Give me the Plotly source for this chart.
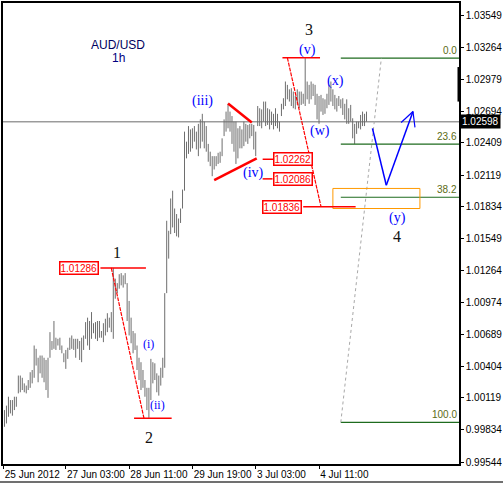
import plotly.graph_objects as go

# ---------------- data ----------------
highs = [1.0001, 1.0005, 1.0013, 1.0010, 1.0010, 1.0013, 1.0013, 1.0032, 1.0032, 1.0030,
         1.0025, 1.0023, 1.0028, 1.0035, 1.0037, 1.0059, 1.0056, 1.0048, 1.0050, 1.0050,
         1.0048, 1.0046, 1.0048, 1.0071, 1.0063, 1.0081, 1.0066, 1.0065, 1.0066, 1.0059,
         1.0052, 1.0055, 1.0057, 1.0066, 1.0068, 1.0065, 1.0065, 1.0065, 1.0063, 1.0066,
         1.0068, 1.0080, 1.0084, 1.0081, 1.0089, 1.0079, 1.0080, 1.0081, 1.0081, 1.0072,
         1.0079, 1.0083, 1.0088, 1.0084, 1.0089, 1.01286, 1.0119, 1.0115, 1.0123, 1.0124,
         1.0122, 1.0124, 1.0115, 1.0099, 1.0084, 1.0072, 1.0070, 1.0059, 1.0048, 1.0044,
         1.0037, 1.0028, 1.0021, 1.0021, 1.0047, 1.0044, 1.0043, 1.0034, 1.0032, 1.0039,
         1.0048, 1.0106, 1.0171, 1.0162, 1.0191, 1.0198, 1.0182, 1.0177, 1.0173, 1.0182,
         1.0199, 1.0251, 1.0242, 1.0256, 1.0253, 1.0254, 1.0256, 1.0251, 1.0258, 1.0262,
         1.0267, 1.0260, 1.0256, 1.0240, 1.0233, 1.0229, 1.0229, 1.0229, 1.0232, 1.0233,
         1.0245, 1.0262, 1.0269, 1.0276, 1.0269, 1.0265, 1.0260, 1.0260, 1.0254, 1.0256,
         1.0253, 1.0260, 1.0258, 1.0257, 1.0258, 1.0258, 1.0257, 1.0251, 1.0274, 1.0272,
         1.0271, 1.0278, 1.0278, 1.0272, 1.0271, 1.0269, 1.0267, 1.0272, 1.0267, 1.0260,
         1.0276, 1.0281, 1.0296, 1.0293, 1.0289, 1.0290, 1.0287, 1.0283, 1.0289, 1.0287,
         1.0287, 1.0285, 1.0317, 1.0296, 1.0293, 1.0296, 1.0294, 1.0293, 1.0285, 1.0283,
         1.0284, 1.0281, 1.0280, 1.0285, 1.0293, 1.0296, 1.0289, 1.0284, 1.0281, 1.0283,
         1.0280, 1.0281, 1.0276, 1.0280, 1.0272, 1.0275, 1.0263, 1.0258, 1.0260, 1.0260,
         1.0266, 1.0269, 1.0267, 1.0269]
lows = [0.9986, 0.9989, 0.9995, 0.9998, 0.9996, 1.0001, 1.0004, 1.0016, 1.0017, 1.0019,
        1.0017, 1.0016, 1.0019, 1.0021, 1.0025, 1.0030, 1.0041, 1.0026, 1.0034, 1.0030,
        1.0026, 1.0019, 1.0012, 1.0048, 1.0055, 1.0056, 1.0055, 1.0059, 1.0055, 1.0052,
        1.0044, 1.0038, 1.0047, 1.0055, 1.0056, 1.0055, 1.0048, 1.0056, 1.0046, 1.0044,
        1.0055, 1.0065, 1.0059, 1.0055, 1.0065, 1.0070, 1.0065, 1.0063, 1.0066, 1.0066,
        1.0062, 1.0068, 1.0071, 1.0075, 1.0071, 1.0065, 1.0101, 1.0106, 1.0110, 1.0113,
        1.0111, 1.0114, 1.0081, 1.0068, 1.0061, 1.0052, 1.0055, 1.0037, 1.0028, 1.0019,
        1.0021, 1.0013, 1.0001, 0.9994, 1.0010, 1.0025, 1.0028, 1.0017, 1.0014, 1.0023,
        1.0030, 1.0039, 1.0106, 1.0137, 1.0159, 1.0165, 1.0160, 1.0157, 1.0156, 1.0169,
        1.0182, 1.0198, 1.0227, 1.0231, 1.0233, 1.0236, 1.0242, 1.0235, 1.0229, 1.0236,
        1.0242, 1.0236, 1.0233, 1.0224, 1.0220, 1.0211, 1.0217, 1.0220, 1.0222, 1.0223,
        1.0229, 1.0247, 1.0251, 1.0254, 1.0251, 1.0240, 1.0233, 1.0222, 1.0227, 1.0236,
        1.0236, 1.0238, 1.0242, 1.0240, 1.0245, 1.0247, 1.0235, 1.0229, 1.0256, 1.0256,
        1.0254, 1.0260, 1.0256, 1.0257, 1.0253, 1.0257, 1.0253, 1.0256, 1.0254, 1.0251,
        1.0265, 1.0271, 1.0274, 1.0280, 1.0278, 1.0274, 1.0272, 1.0271, 1.0275, 1.0272,
        1.0275, 1.0276, 1.0274, 1.0280, 1.0276, 1.0280, 1.0283, 1.0275, 1.0262, 1.0258,
        1.0269, 1.0266, 1.0267, 1.0272, 1.0275, 1.0278, 1.0274, 1.0271, 1.0269, 1.0274,
        1.0272, 1.0266, 1.0262, 1.0258, 1.0258, 1.0260, 1.0245, 1.0240, 1.0249, 1.0254,
        1.0253, 1.0256, 1.0256, 1.0260]
last_price = 1.02598

price_ticks = [1.03549, 1.03264, 1.02979, 1.02694, 1.02409, 1.02119, 1.01834, 1.01549,
               1.01264, 1.00974, 1.00689, 1.00404, 1.00119, 0.99834, 0.99544]
time_tick_pos = [-0.5, 31, 63, 95, 127, 159]
time_tick_labels = ["25 Jun 2012", "27 Jun 03:00", "28 Jun 11:00", "29 Jun 19:00",
                    "3 Jul 03:00", "4 Jul 11:00"]

fib_high = 1.0317
fib_low = 0.9990
fib_ratios = [0.0, 23.6, 38.2, 100.0]

marked_levels = [1.01286, 1.02262, 1.02086, 1.01836]
wave1_high = 1.01286
wave2_low = 0.99937
wave3_high = 1.03173

# ---------------- figure ----------------
bx, by = [], []
for i, (h, l) in enumerate(zip(highs, lows)):
    bx += [i, i, None]
    by += [l, h, None]
fig = go.Figure()
fig.add_trace(go.Scatter(x=bx, y=by, mode="lines", line=dict(color="#6e6e6e", width=1),
                         hoverinfo="skip", connectgaps=False))

RED = "#ff0000"
BLUE = "#0000ff"
shapes = []

def seg(x0, y0, x1, y1, color, width=1, dash="solid"):
    shapes.append(dict(type="line", xref="x", yref="y", x0=x0, y0=y0, x1=x1, y1=y1,
                       line=dict(color=color, width=width, dash=dash)))

# last price line
shapes.append(dict(type="line", xref="paper", yref="y", x0=0, x1=1, y0=last_price,
                   y1=last_price, line=dict(color="#6a6a6a", width=1)))

# fibonacci levels
fib_levels = [fib_high - (fib_high - fib_low) * r / 100 for r in fib_ratios]
for lv in fib_levels:
    seg(170, lv, 230, lv, "#1e6b1e", 1.2)
seg(170, fib_low, 190.5, fib_high, "#a8a8a8", 1, "3px,3px")

# orange target box
shapes.append(dict(type="rect", xref="x", yref="y", x0=166, x1=210, y0=1.0182, y1=1.0200,
                   line=dict(color="#ff9900", width=1)))

# wave 1 - 2
seg(48.5, wave1_high, 71.5, wave1_high, RED, 1.5)
seg(54, wave1_high, 70.5, wave2_low, RED, 1.2, "4px,1px")
seg(65.5, wave2_low, 84.5, wave2_low, RED, 1.5)
# wave 3 top
seg(140.5, wave3_high, 159.5, wave3_high, RED, 1.5)
seg(143, wave3_high, 160, marked_levels[3], RED, 1.2, "4px,1px")
seg(151, marked_levels[3], 177.5, marked_levels[3], RED, 1.5)
seg(130.5, marked_levels[1], 136, marked_levels[1], RED, 1.5)
seg(130.5, marked_levels[2], 135.5, marked_levels[2], RED, 1.5)
# triangle
seg(113, 1.02762, 125, 1.02592, RED, 2.5)
seg(106, 1.02074, 127.5, 1.02270, RED, 2.5)
# projection arrow
seg(186, 1.02539, 193, 1.02029, BLUE, 1.5)
seg(193, 1.02029, 206.5, 1.02691, BLUE, 1.5)
seg(206.5, 1.02691, 200.5, 1.02592, BLUE, 1.2)
seg(206.5, 1.02691, 207.5, 1.02548, BLUE, 1.2)

# black marker on price scale
shapes.append(dict(type="line", xref="paper", yref="y", x0=1, x1=1, y0=1.0278, y1=1.0309,
                   line=dict(color="black", width=3)))
# outer frame bottom
shapes.append(dict(type="line", xref="paper", yref="paper", x0=-0.01, x1=1.1, y0=-0.0389,
                   y1=-0.0389, line=dict(color="#404040", width=1.5)))

ann = []

def txt(x, y, s, color, size, family="Liberation Serif", **kw):
    ann.append(dict(x=x, y=y, xref="x", yref="y", text=s, showarrow=False,
                    font=dict(color=color, size=size, family=family), **kw))

txt(57.5, 1.0329, "AUD/USD", "#000060", 12, "Liberation Sans")
txt(57.5, 1.03173, "1h", "#000080", 12, "Liberation Sans")
for x, y, s in [(57, 1.01421, "1"), (73, 0.99767, "2"), (154, 1.0343, "3"), (198.5, 1.01573, "4")]:
    txt(x, y, s, "#111111", 16)
for x, y, s in [(153, 1.0324, "(v)"), (100, 1.02789, "(iii)"), (126, 1.02136, "(iv)"),
                (159.5, 1.02512, "(w)"), (167.5, 1.02969, "(x)"), (198.5, 1.01734, "(y)")]:
    txt(x, y, s, BLUE, 14)
for x, y, s in [(73, 1.00599, "(i)"), (77.5, 1.00053, "(ii)")]:
    txt(x, y, s, BLUE, 12)

# red price boxes
for x, lv in [(37.75, marked_levels[0]), (146, marked_levels[1]), (145.75, marked_levels[2]),
              (140.5, marked_levels[3])]:
    ann.append(dict(x=x, y=lv, xref="x", yref="y", text=f"{lv:.5f}", showarrow=False,
                    font=dict(color=RED, size=10, family="Liberation Sans"),
                    bgcolor="white", bordercolor=RED, borderwidth=1.5, borderpad=0))

# fib labels
for lv, r in zip(fib_levels, fib_ratios):
    ann.append(dict(x=229.5, y=lv, xref="x", yref="y", text=f"{r:.1f}", showarrow=False,
                    xanchor="right", yanchor="bottom",
                    font=dict(color="#5b6b14", size=10, family="Liberation Sans")))

# last price tag
ann.append(dict(x=1, y=last_price, xref="paper", yref="y", text=f"{last_price:.5f}",
                showarrow=False, xanchor="left", xshift=1, bgcolor="black",
                font=dict(color="white", size=10, family="Liberation Sans"), borderpad=1))

fig.update_layout(
    width=503, height=483,
    margin=dict(l=1, r=41, t=1, b=19),
    paper_bgcolor="white", plot_bgcolor="white",
    showlegend=False, hovermode=False,
    shapes=shapes, annotations=ann,
    xaxis=dict(range=[-0.75, 229.75], tickvals=time_tick_pos, ticktext=time_tick_labels,
               tickangle=0, ticks="outside", ticklen=3, tickcolor="black",
               ticklabelposition="outside right",
               tickfont=dict(size=10, family="Liberation Sans", color="black"),
               showgrid=False, zeroline=False, showline=True, linecolor="black",
               linewidth=1.5, mirror=True, fixedrange=True),
    yaxis=dict(range=[0.99526, 1.03665], side="right", tickvals=price_ticks,
               ticktext=[f"{v:.5f}" for v in price_ticks],
               ticks="outside", ticklen=3, tickcolor="black",
               tickfont=dict(size=10, family="Liberation Sans", color="black"),
               showgrid=False, zeroline=False, showline=True, linecolor="black",
               linewidth=1.5, mirror=True, fixedrange=True),
)
fig.write_html("out.html")
